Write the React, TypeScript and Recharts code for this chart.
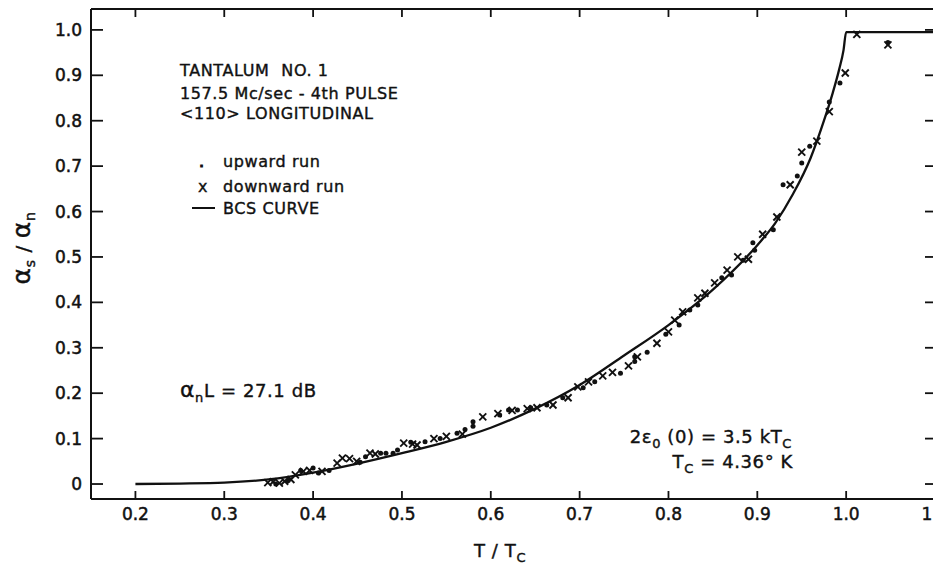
import { ComposedChart, Line, Scatter, XAxis, YAxis } from "recharts";

// tick values + their printed labels
const xTicks = [0.2, 0.3, 0.4, 0.5, 0.6, 0.7, 0.8, 0.9, 1.0, 1.1];
const xTickLabels = ["0.2", "0.3", "0.4", "0.5", "0.6", "0.7", "0.8", "0.9", "1.0", "1.1"];
const yTicks = [0, 0.1, 0.2, 0.3, 0.4, 0.5, 0.6, 0.7, 0.8, 0.9, 1.0];
const yTickLabels = ["0", "0.1", "0.2", "0.3", "0.4", "0.5", "0.6", "0.7", "0.8", "0.9", "1.0"];

// BCS curve
const bcsT = [0.2, 0.25, 0.3, 0.35, 0.4, 0.45, 0.5, 0.55, 0.6, 0.65, 0.7, 0.75, 0.8, 0.85, 0.9, 0.92, 0.94, 0.96, 0.975, 0.985, 0.992, 0.997, 1.0, 1.1];
const bcsRatio = [0, 0.001, 0.003, 0.01, 0.025, 0.045, 0.068, 0.093, 0.124, 0.166, 0.218, 0.283, 0.35, 0.428, 0.526, 0.574, 0.638, 0.718, 0.8, 0.862, 0.912, 0.955, 0.995, 0.995];

// downward run (x markers)
const downT = [0.349, 0.355, 0.362, 0.368, 0.375, 0.38, 0.389, 0.396, 0.41, 0.427, 0.433, 0.441, 0.449, 0.464, 0.47, 0.502, 0.512, 0.517, 0.536, 0.55, 0.568, 0.591, 0.608, 0.624, 0.641, 0.652, 0.67, 0.687, 0.698, 0.71, 0.726, 0.737, 0.755, 0.765, 0.787, 0.8, 0.807, 0.816, 0.833, 0.841, 0.852, 0.866, 0.878, 0.89, 0.906, 0.922, 0.937, 0.95, 0.967, 0.981, 0.999, 1.012, 1.047];
const downRatio = [0.003, 0.005, 0.002, 0.006, 0.01, 0.02, 0.028, 0.03, 0.028, 0.046, 0.057, 0.056, 0.05, 0.068, 0.066, 0.09, 0.088, 0.086, 0.1, 0.105, 0.11, 0.148, 0.155, 0.162, 0.166, 0.168, 0.174, 0.19, 0.214, 0.225, 0.238, 0.246, 0.26, 0.28, 0.31, 0.335, 0.361, 0.379, 0.41, 0.42, 0.443, 0.471, 0.5, 0.495, 0.55, 0.588, 0.659, 0.731, 0.755, 0.82, 0.905, 0.99, 0.967];

// upward run (dots)
const upT = [0.358, 0.372, 0.386, 0.4, 0.406, 0.418, 0.453, 0.459, 0.476, 0.482, 0.49, 0.495, 0.51, 0.526, 0.543, 0.562, 0.571, 0.58, 0.58, 0.61, 0.62, 0.63, 0.645, 0.663, 0.681, 0.704, 0.717, 0.746, 0.762, 0.762, 0.776, 0.797, 0.812, 0.824, 0.833, 0.86, 0.871, 0.884, 0.895, 0.897, 0.918, 0.929, 0.945, 0.95, 0.959, 0.981, 0.993, 1.047];
const upRatio = [0.0, 0.008, 0.03, 0.035, 0.024, 0.03, 0.048, 0.06, 0.068, 0.068, 0.068, 0.075, 0.092, 0.093, 0.1, 0.112, 0.12, 0.137, 0.127, 0.152, 0.163, 0.163, 0.168, 0.174, 0.19, 0.212, 0.225, 0.244, 0.28, 0.27, 0.29, 0.33, 0.35, 0.383, 0.394, 0.454, 0.46, 0.493, 0.531, 0.515, 0.56, 0.659, 0.678, 0.707, 0.744, 0.841, 0.883, 0.972];

const bcsData = bcsT.map((t, i) => ({ x: t, y: bcsRatio[i] }));
const downData = downT.map((t, i) => ({ x: t, y: downRatio[i] }));
const upData = upT.map((t, i) => ({ x: t, y: upRatio[i] }));

const FONT = "'DejaVu Sans', sans-serif";
const INK = "#111";

const BottomTick = (props: any) => {
    const { x, y, index } = props;
    return (
        <g>
            <line x1={x} x2={x} y1={y} y2={y - 8} stroke={INK} strokeWidth={1.8} />
            <text x={x} y={y + 21} textAnchor="middle" fontSize={17} fontFamily={FONT} fill={INK} stroke={INK} strokeWidth={0.5}>
                {xTickLabels[index]}
            </text>
        </g>
    );
};

const LeftTick = (props: any) => {
    const { x, y, index } = props;
    return (
        <g>
            <line x1={x} x2={x + 12} y1={y} y2={y} stroke={INK} strokeWidth={1.8} />
            <text x={x - 9} y={y + 6} textAnchor="end" fontSize={17} fontFamily={FONT} fill={INK} stroke={INK} strokeWidth={0.5}>
                {yTickLabels[index]}
            </text>
        </g>
    );
};

const TopTick = (props: any) => (
    <line x1={props.x} x2={props.x} y1={props.y} y2={props.y + 8} stroke={INK} strokeWidth={1.8} />
);

const RightTick = (props: any) => (
    <line x1={props.x} x2={props.x - 10} y1={props.y} y2={props.y} stroke={INK} strokeWidth={1.8} />
);

const Cross = (props: any) => {
    const { cx, cy } = props;
    const s = 3.5;
    return (
        <g stroke={INK} strokeWidth={1.9}>
            <line x1={cx - s} y1={cy - s} x2={cx + s} y2={cy + s} />
            <line x1={cx - s} y1={cy + s} x2={cx + s} y2={cy - s} />
        </g>
    );
};

const Dot = (props: any) => <circle cx={props.cx} cy={props.cy} r={2.5} fill={INK} />;

export default function App() {
    const txt = { fontFamily: FONT, fill: INK, stroke: INK, strokeWidth: 0.4, letterSpacing: 0.6 } as const;
    return (
        <div style={{ position: "absolute", left: 0, top: 0, width: 933, height: 566, overflow: "hidden", background: "#fff" }}>
            <ComposedChart width={960} height={566} margin={{ top: 8, right: 24, bottom: 7, left: 0 }}>
                <XAxis
                    type="number"
                    dataKey="x"
                    domain={[0.15, 1.1]}
                    ticks={xTicks}
                    allowDataOverflow
                    height={60}
                    tickSize={0}
                    tickMargin={0}
                    tick={BottomTick}
                    tickLine={false}
                    axisLine={{ stroke: INK, strokeWidth: 2 }}
                />
                <XAxis
                    xAxisId="top"
                    orientation="top"
                    type="number"
                    dataKey="x"
                    domain={[0.15, 1.1]}
                    ticks={xTicks}
                    allowDataOverflow
                    height={1}
                    tickSize={0}
                    tickMargin={0}
                    tick={TopTick}
                    tickLine={false}
                    axisLine={{ stroke: INK, strokeWidth: 2 }}
                />
                <YAxis
                    type="number"
                    dataKey="y"
                    domain={[-0.033, 1.046]}
                    ticks={yTicks}
                    allowDataOverflow
                    width={91}
                    tickSize={0}
                    tickMargin={0}
                    tick={LeftTick}
                    tickLine={false}
                    axisLine={{ stroke: INK, strokeWidth: 2 }}
                />
                <YAxis
                    yAxisId="right"
                    orientation="right"
                    type="number"
                    dataKey="y"
                    domain={[-0.033, 1.046]}
                    ticks={yTicks}
                    allowDataOverflow
                    width={1}
                    tickSize={0}
                    tickMargin={0}
                    tick={RightTick}
                    tickLine={false}
                    axisLine={{ stroke: INK, strokeWidth: 2 }}
                />
                <Line
                    data={bcsData}
                    dataKey="y"
                    type="monotone"
                    stroke={INK}
                    strokeWidth={2.3}
                    dot={false}
                    activeDot={false}
                    isAnimationActive={false}
                />
                <Scatter data={upData} dataKey="y" shape={Dot} isAnimationActive={false} />
                <Scatter data={downData} dataKey="y" shape={Cross} isAnimationActive={false} />
                <Scatter data={upData} xAxisId="top" yAxisId="right" dataKey="y" shape={() => null} isAnimationActive={false} />
            </ComposedChart>

            {/* lettering on the plate */}
            <svg width={933} height={566} style={{ position: "absolute", left: 0, top: 0, pointerEvents: "none" }}>
                <g {...txt} fontSize={16}>
                    <text x={180} y={76}>
                        <tspan>TANTALUM</tspan>
                        <tspan dx={12}>NO. 1</tspan>
                    </text>
                    <text x={180} y={99}>157.5 Mc/sec - 4th PULSE</text>
                    <text x={180} y={119}>{"<110> LONGITUDINAL"}</text>
                    <text x={199} y={167} strokeWidth={1.2}>.</text>
                    <text x={223} y={167}>upward run</text>
                    <text x={198} y={192}>x</text>
                    <text x={223} y={192}>downward run</text>
                    <text x={223} y={214}>BCS CURVE</text>
                </g>
                <line x1={192} x2={215} y1={208} y2={208} stroke={INK} strokeWidth={2} />

                <text x={180} y={397} {...txt} fontSize={18}>
                    <tspan fontSize={22}>α</tspan>
                    <tspan fontSize={13} dy={5}>n</tspan>
                    <tspan dy={-5}>L = 27.1 dB</tspan>
                </text>

                <text x={792} y={443} textAnchor="end" {...txt} fontSize={18}>
                    <tspan>2ε</tspan>
                    <tspan fontSize={13} dy={5}>0</tspan>
                    <tspan dy={-5}> (0) = 3.5 kT</tspan>
                    <tspan fontSize={13} dy={5}>C</tspan>
                </text>
                <text x={793} y={468} textAnchor="end" {...txt} fontSize={18}>
                    <tspan>T</tspan>
                    <tspan fontSize={13} dy={5}>C</tspan>
                    <tspan dy={-5}> = 4.36° K</tspan>
                </text>

                <text x={500} y={557} textAnchor="middle" {...txt} fontSize={18}>
                    <tspan>T / T</tspan>
                    <tspan fontSize={13} dy={5}>C</tspan>
                </text>

                <text x={30} y={248} textAnchor="middle" transform="rotate(-90 30 248)" {...txt} fontSize={20}>
                    <tspan fontSize={25}>α</tspan>
                    <tspan fontSize={14} dy={5}>s</tspan>
                    <tspan dy={-5}> / </tspan>
                    <tspan fontSize={25}>α</tspan>
                    <tspan fontSize={14} dy={5}>n</tspan>
                </text>
            </svg>
        </div>
    );
}
